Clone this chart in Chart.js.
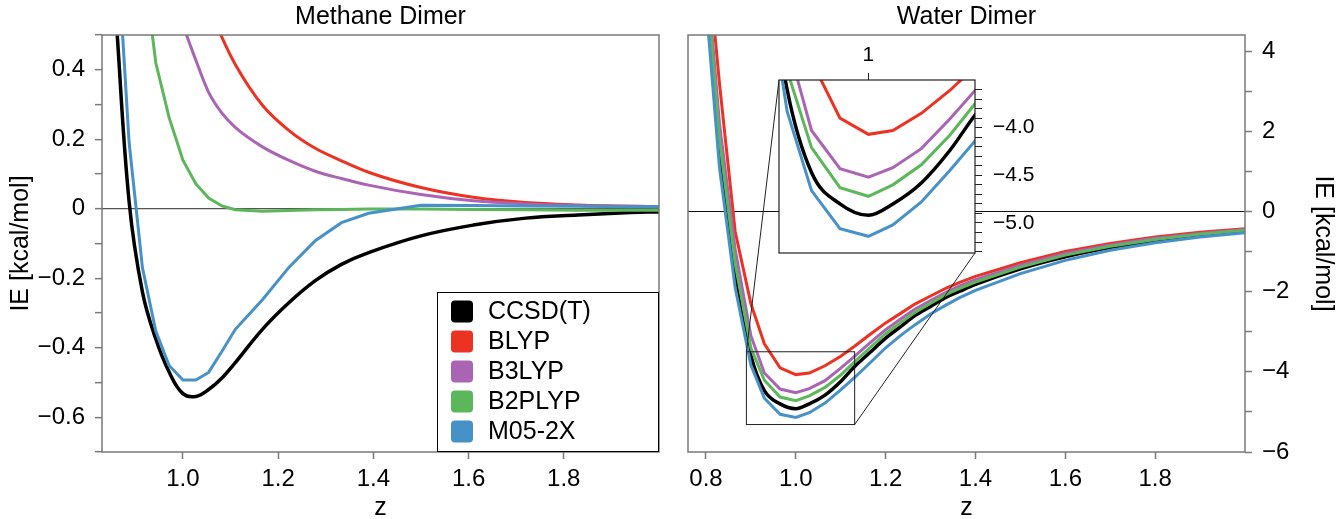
<!DOCTYPE html>
<html>
<head>
<meta charset="utf-8">
<script src="https://cdn.jsdelivr.net/npm/chart.js@4.4.1/dist/chart.umd.min.js"></script>
<style>
  html, body { margin: 0; padding: 0; background: #fff; }
  #wrap { position: relative; width: 1340px; height: 519px; }
  canvas { position: absolute; }
</style>
</head>
<body>
<div id="wrap">
  <canvas id="methane" width="670" height="519" style="left:0;top:0;z-index:1"></canvas>
  <canvas id="water" width="670" height="519" style="left:670px;top:0;z-index:1"></canvas>
  <canvas id="inset" width="320" height="245" style="left:760px;top:40px;z-index:2"></canvas>
</div>
<script>
// ---- data ----
const methodNames = ['CCSD(T)', 'BLYP', 'B3LYP', 'B2PLYP', 'M05-2X'];

const methaneZ = [0.86, 0.887, 0.915, 0.943, 0.971, 1.0, 1.027, 1.054, 1.082, 1.11, 1.167,
                  1.223, 1.278, 1.333, 1.39, 1.5, 1.61, 1.72, 1.83, 1.94, 2.0];
const methaneCCSDT  = [0.54, 0.02, -0.24, -0.375, -0.47, -0.532, -0.54, -0.52, -0.487, -0.443, -0.347,
                       -0.27, -0.207, -0.16, -0.126, -0.078, -0.047, -0.027, -0.018, -0.011, -0.009];
const methaneBLYP   = [null, null, null, null, null, 0.80, 0.69, 0.585, 0.493, 0.415, 0.298,
                       0.225, 0.174, 0.138, 0.105, 0.061, 0.033, 0.018, 0.011, 0.007, 0.006];
const methaneB3LYP  = [null, null, null, null, 0.66, 0.53, 0.428, 0.335, 0.275, 0.234, 0.178,
                       0.139, 0.108, 0.087, 0.068, 0.041, 0.023, 0.014, 0.009, 0.007, 0.006];
const methaneB2PLYP = [null, null, 0.73, 0.42, 0.262, 0.14, 0.072, 0.031, 0.008, -0.003, -0.007,
                       -0.005, -0.003, -0.002, -0.001, -0.001, -0.002, -0.003, -0.004, -0.004, -0.004];
const methaneM052X  = [0.80, 0.19, -0.17, -0.352, -0.451, -0.493, -0.493, -0.471, -0.41, -0.347, -0.262,
                       -0.168, -0.092, -0.04, -0.013, 0.010, 0.009, 0.008, 0.007, 0.006, 0.006];

const waterZ = [0.8, 0.83, 0.865, 0.9, 0.93, 0.965, 1.0, 1.03, 1.065, 1.1, 1.13, 1.165, 1.2,
                1.235, 1.265, 1.3, 1.335, 1.365, 1.4, 1.5, 1.6, 1.7, 1.8, 1.9, 2.0];
const waterCCSDT  = [5.6, 1.5, -1.6, -3.6, -4.47, -4.80, -4.92, -4.80, -4.58, -4.24, -3.88, -3.52, -3.16,
                     -2.86, -2.60, -2.37, -2.14, -1.99, -1.82, -1.43, -1.13, -0.90, -0.73, -0.60, -0.50];
const waterBLYP   = [6.8, 3.2, -0.5, -2.3, -3.3, -3.90, -4.07, -4.03, -3.85, -3.61, -3.37, -3.07, -2.78,
                     -2.53, -2.31, -2.11, -1.91, -1.77, -1.62, -1.28, -1.00, -0.80, -0.64, -0.52, -0.43];
const waterB3LYP  = [6.2, 2.2, -0.95, -3.1, -4.03, -4.43, -4.52, -4.42, -4.22, -3.91, -3.62, -3.28, -2.95,
                     -2.67, -2.44, -2.22, -2.01, -1.86, -1.70, -1.34, -1.05, -0.84, -0.67, -0.55, -0.45];
const waterB2PLYP = [5.9, 1.8, -1.3, -3.4, -4.21, -4.63, -4.72, -4.60, -4.39, -4.08, -3.76, -3.40, -3.05,
                     -2.76, -2.52, -2.29, -2.07, -1.92, -1.76, -1.39, -1.09, -0.87, -0.70, -0.57, -0.47];
const waterM052X  = [5.2, 1.1, -1.9, -3.83, -4.66, -5.06, -5.14, -5.02, -4.78, -4.45, -4.15, -3.78, -3.40,
                     -3.08, -2.83, -2.56, -2.33, -2.15, -1.97, -1.55, -1.22, -0.97, -0.78, -0.64, -0.53];

// axis ranges and ticks
const methaneXRange = [0.83, 2.0], methaneYRange = [-0.7, 0.5];
const methaneXTicks = [1.0, 1.2, 1.4, 1.6, 1.8];
const methaneYTicks = [0.5, 0.4, 0.3, 0.2, 0.1, 0, -0.1, -0.2, -0.3, -0.4, -0.5, -0.6, -0.7];
const waterXRange = [0.76, 2.0], waterYRange = [-6, 4.4];
const waterXTicks = [0.8, 1.0, 1.2, 1.4, 1.6, 1.8];
const waterYTicks = [4, 3, 2, 1, 0, -1, -2, -3, -4, -5, -6];
const insetXRange = [0.89, 1.131], insetYRange = [-5.315, -3.5];
const insetXTicks = [1];
const insetYTicks = [-3.6, -3.7, -3.8, -3.9, -4.0, -4.1, -4.2, -4.3, -4.4, -4.5, -4.6,
                     -4.7, -4.8, -4.9, -5.0, -5.1, -5.2, -5.3];

// ---- styling ----
const colors = ['#000000', '#ec3223', '#a965b3', '#5cb75b', '#4691c8'];
const axisGray = '#7a7a7a';
Chart.defaults.font.family = "'Liberation Sans', Arial, sans-serif";
Chart.defaults.color = '#000';

const minus = s => s.replace('-', '\u2212');

// smooth: map of series index -> 'monotone' | 'tension'
function lines(z, series, smooth) {
  return series.map((vals, i) => ({
    label: methodNames[i],
    data: z.map((x, k) => ({x: x, y: vals[k]})),
    borderColor: colors[i],
    backgroundColor: colors[i],
    borderWidth: i === 0 ? 3.5 : 3,
    pointRadius: 0,
    fill: false,
    cubicInterpolationMode: smooth[i] === 'monotone' ? 'monotone' : 'default',
    tension: smooth[i] === 'tension' ? 0.4 : 0,
    order: 5 - i
  }));
}

const setTicks = list => scale => { scale.ticks = list.map(v => ({value: v})); };

const frame = {
  id: 'frame',
  afterDraw(chart, args, opts) {
    const a = chart.chartArea, ctx = chart.ctx;
    ctx.save();
    ctx.strokeStyle = opts.color || axisGray;
    ctx.lineWidth = opts.width || 1.5;
    ctx.strokeRect(a.left, a.top, a.right - a.left, a.bottom - a.top);
    ctx.restore();
  }
};

const legendBox = {
  id: 'legendBox',
  afterDraw(chart) {
    const a = chart.chartArea, ctx = chart.ctx;
    const w = 222, h = 160, rowH = 30;
    const x0 = a.right - w, y0 = a.bottom - h;
    ctx.save();
    ctx.fillStyle = '#fff';
    ctx.fillRect(x0, y0, w, h);
    ctx.strokeStyle = '#000';
    ctx.lineWidth = 1;
    ctx.strokeRect(x0 + 0.5, y0 + 0.5, w - 1, h - 1);
    ctx.font = "25px 'Liberation Sans', Arial, sans-serif";
    ctx.textBaseline = 'middle';
    methodNames.forEach((name, i) => {
      const cy = y0 + 19.5 + i * rowH;
      ctx.fillStyle = colors[i];
      ctx.beginPath();
      ctx.roundRect(x0 + 14, cy - 11, 22, 22, 4);
      ctx.fill();
      ctx.fillStyle = '#000';
      ctx.fillText(name, x0 + 51, cy + 1);
    });
    ctx.restore();
  }
};

function xAxis(range, ticks, fixedHeight) {
  return {
    type: 'linear', position: 'bottom', min: range[0], max: range[1],
    afterBuildTicks: setTicks(ticks),
    afterFit: s => { s.height = fixedHeight; },
    border: {display: false},
    grid: {display: true, drawOnChartArea: false, tickLength: 7, tickColor: axisGray, tickWidth: 1.5},
    ticks: {autoSkip: false, maxRotation: 0, padding: 6, font: {size: 24},
            callback: v => v.toFixed(1)},
    title: {display: true, text: 'z', font: {size: 25}, padding: {top: 0, bottom: -4}}
  };
}

// ---- methane ----
new Chart(document.getElementById('methane'), {
  type: 'line',
  data: {datasets: lines(methaneZ, [methaneCCSDT, methaneBLYP, methaneB3LYP, methaneB2PLYP, methaneM052X],
                         {0: 'tension', 1: 'monotone', 2: 'monotone'})},
  options: {
    responsive: false, animation: false,
    layout: {padding: {left: 0, right: 11, top: 0, bottom: 0}},
    scales: {
      x: xAxis(methaneXRange, methaneXTicks, 67),
      y: {
        type: 'linear', position: 'left', min: methaneYRange[0], max: methaneYRange[1],
        afterBuildTicks: setTicks(methaneYTicks),
        afterFit: s => { s.width = 102; },
        border: {display: false},
        grid: {
          display: true, drawOnChartArea: true, tickLength: 7, tickColor: axisGray, tickWidth: 1.5,
          lineWidth: 1.3,
          color: c => (c.tick && Math.abs(c.tick.value) < 1e-9) ? '#555' : 'rgba(0,0,0,0)'
        },
        ticks: {
          autoSkip: false, padding: 10, font: {size: 24},
          callback: v => Math.round(v * 10) % 2 === 0 ? (Math.abs(v) < 1e-9 ? '0' : minus(v.toFixed(1))) : ''
        },
        title: {display: true, text: 'IE [kcal/mol]', font: {size: 25}, padding: {top: 6, bottom: 0}}
      }
    },
    plugins: {
      legend: {display: false},
      tooltip: {enabled: false},
      title: {display: true, text: 'Methane Dimer', fullSize: false, font: {size: 25, weight: 'normal'},
              padding: {top: 2.5, bottom: 2.5}, color: '#000'},
      frame: {color: axisGray, width: 1.5}
    }
  },
  plugins: [frame, legendBox]
});

// ---- inset (zoom of the water minimum) ----
const waterSeries = [waterCCSDT, waterBLYP, waterB3LYP, waterB2PLYP, waterM052X];
const insetPos = {left: 760, top: 40}, waterPos = {left: 670, top: 0};

const insetChart = new Chart(document.getElementById('inset'), {
  type: 'line',
  data: {datasets: lines(waterZ, waterSeries, {0: 'monotone'})},
  options: {
    responsive: false, animation: false,
    layout: {padding: {left: 19, right: 0, top: 0, bottom: 32}},
    scales: {
      x: {
        type: 'linear', position: 'top', min: insetXRange[0], max: insetXRange[1],
        afterBuildTicks: setTicks(insetXTicks),
        afterFit: s => { s.height = 40; },
        border: {display: false},
        grid: {display: true, drawOnChartArea: false, tickLength: 7, tickColor: '#222', tickWidth: 1},
        ticks: {autoSkip: false, maxRotation: 0, padding: 5, font: {size: 21}, callback: v => String(v)}
      },
      y: {
        type: 'linear', position: 'right', min: insetYRange[0], max: insetYRange[1],
        afterBuildTicks: setTicks(insetYTicks),
        afterFit: s => { s.width = 105; },
        border: {display: false},
        grid: {display: true, drawOnChartArea: false, tickLength: 7, tickColor: '#222', tickWidth: 1},
        ticks: {
          autoSkip: false, padding: 11, font: {size: 21},
          callback: v => [-40, -45, -50].includes(Math.round(v * 10)) ? minus(v.toFixed(1)) : ''
        }
      }
    },
    plugins: {
      legend: {display: false},
      tooltip: {enabled: false},
      frame: {color: '#222', width: 1.2}
    }
  },
  plugins: [{
    id: 'insetBg',
    beforeDraw(chart) {
      const a = chart.chartArea;
      chart.ctx.save();
      chart.ctx.fillStyle = '#fff';
      chart.ctx.fillRect(a.left, a.top, a.right - a.left, a.bottom - a.top);
      chart.ctx.restore();
    }
  }, frame]
});

const zoomLines = {
  id: 'zoomLines',
  afterDatasetsDraw(chart) {
    const ctx = chart.ctx, x = chart.scales.x, y = chart.scales.y;
    const x1 = x.getPixelForValue(insetXRange[0]), x2 = x.getPixelForValue(insetXRange[1]);
    const y1 = y.getPixelForValue(insetYRange[1]), y2 = y.getPixelForValue(insetYRange[0]);
    const a = insetChart.chartArea;
    const dx = insetPos.left - waterPos.left, dy = insetPos.top - waterPos.top;
    ctx.save();
    ctx.strokeStyle = '#222';
    ctx.lineWidth = 1;
    ctx.strokeRect(x1, y1, x2 - x1, y2 - y1);
    ctx.beginPath();
    ctx.moveTo(x1, y1); ctx.lineTo(a.left + dx, a.top + dy);
    ctx.moveTo(x2, y2); ctx.lineTo(a.right + dx, a.bottom + dy);
    ctx.stroke();
    ctx.restore();
  }
};

// ---- water ----
new Chart(document.getElementById('water'), {
  type: 'line',
  data: {datasets: lines(waterZ, waterSeries, {0: 'monotone'})},
  options: {
    responsive: false, animation: false,
    layout: {padding: {left: 18, right: 0, top: 0, bottom: 0}},
    scales: {
      x: xAxis(waterXRange, waterXTicks, 67),
      y: {
        type: 'linear', position: 'right', min: waterYRange[0], max: waterYRange[1],
        afterBuildTicks: setTicks(waterYTicks),
        afterFit: s => { s.width = 95; },
        border: {display: false},
        grid: {
          display: true, drawOnChartArea: true, tickLength: 7, tickColor: axisGray, tickWidth: 1.5,
          lineWidth: 1,
          color: c => (c.tick && c.tick.value === 0) ? '#111' : 'rgba(0,0,0,0)'
        },
        ticks: {
          autoSkip: false, padding: 10, font: {size: 24},
          callback: v => v % 2 === 0 ? minus(String(v)) : ''
        },
        title: {display: true, text: 'IE [kcal/mol]', font: {size: 25}, padding: {top: 2, bottom: 0}}
      }
    },
    plugins: {
      legend: {display: false},
      tooltip: {enabled: false},
      title: {display: true, text: 'Water Dimer', fullSize: false, font: {size: 25, weight: 'normal'},
              padding: {top: 2.5, bottom: 2.5}, color: '#000'},
      frame: {color: axisGray, width: 1.5}
    }
  },
  plugins: [zoomLines, frame]
});
</script>
</body>
</html>
